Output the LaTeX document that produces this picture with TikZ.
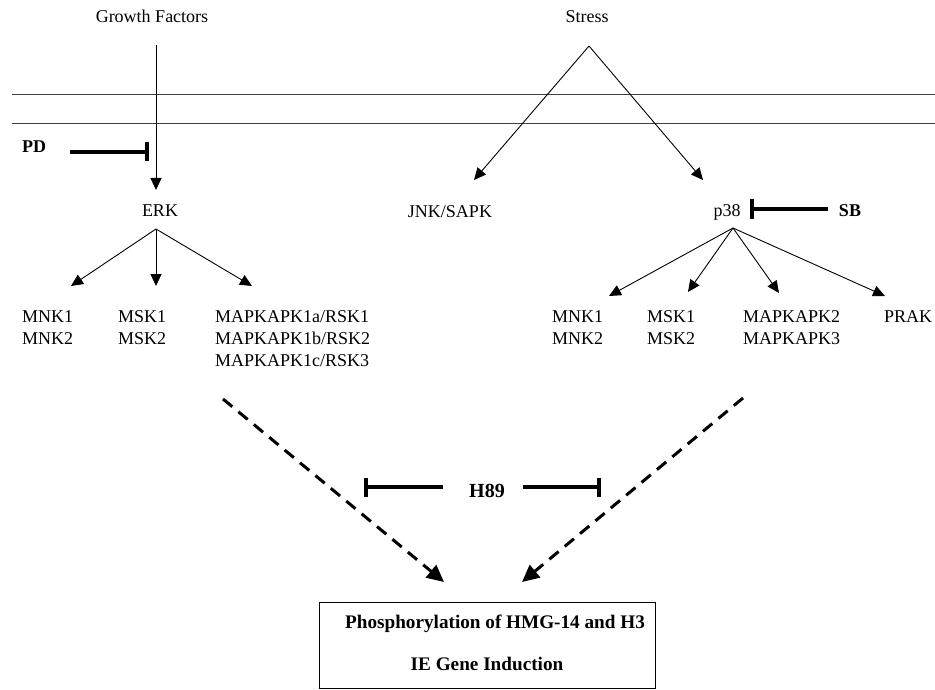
\documentclass[tikz,border=0pt]{standalone}
\usepackage{fontspec}
\setmainfont{Liberation Serif}
\usetikzlibrary{arrows.meta}
\begin{document}
\begin{tikzpicture}[x=1pt,y=-1pt,
  txt/.style={inner sep=0pt, font=\fontsize{18}{22}\selectfont},
  btxt/.style={inner sep=0pt, font=\fontsize{18}{22}\selectfont\bfseries},
  bigb/.style={inner sep=0pt, font=\fontsize{19.2}{22}\selectfont\bfseries},
  act/.style={line width=0.9pt, -{Triangle[length=12pt,width=11pt]}},
  inh/.style={line width=4pt, -{Bar[width=19pt]}},
  dsh/.style={line width=3pt, dash pattern=on 12pt off 8pt, -{Triangle[length=17pt,width=16pt]}},
  mem/.style={line width=0.9pt, black!75},
  boxst/.style={draw, line width=1pt, minimum width=336pt, minimum height=86pt, inner sep=0pt}]
\useasboundingbox (0,0) rectangle (935,690);

% membrane
\coordinate (m1a) at (12,94);  \coordinate (m1b) at (935,94);
\coordinate (m2a) at (12,123); \coordinate (m2b) at (935,123);
\draw[mem] (m1a) -- (m1b);
\draw[mem] (m2a) -- (m2b);

% top labels
\node[txt, anchor=base] (gf) at (152,23) {Growth Factors};
\node[txt, anchor=base] (stress) at (587,23) {Stress};

% second level
\node[txt, anchor=base] (erk) at (160,217) {ERK};
\node[txt, anchor=base] (jnk) at (450,218) {JNK/SAPK};
\node[txt, anchor=base] (p38) at (727,217) {p38};

% inhibitors
\node[btxt, anchor=base] (pd) at (34,153) {PD};
\node[btxt, anchor=base] (sb) at (850,217) {SB};
\node[btxt, font=\fontsize{20}{22}\selectfont\bfseries, anchor=base] (h89) at (487,497) {H89};

% ERK targets
\node[txt, anchor=base west] (lmnk1) at (22,322) {MNK1};
\node[txt, anchor=base west] (lmnk2) at (22,344) {MNK2};
\node[txt, anchor=base west] (lmsk1) at (118,322) {MSK1};
\node[txt, anchor=base west] (lmsk2) at (118,344) {MSK2};
\node[txt, anchor=base west] (rsk1) at (215,322) {MAPKAPK1a/RSK1};
\node[txt, anchor=base west] (rsk2) at (215,344) {MAPKAPK1b/RSK2};
\node[txt, anchor=base west] (rsk3) at (215,366) {MAPKAPK1c/RSK3};

% p38 targets
\node[txt, anchor=base west] (rmnk1) at (552,322) {MNK1};
\node[txt, anchor=base west] (rmnk2) at (552,344) {MNK2};
\node[txt, anchor=base west] (rmsk1) at (647,322) {MSK1};
\node[txt, anchor=base west] (rmsk2) at (647,344) {MSK2};
\node[txt, anchor=base west] (mk2) at (743,322) {MAPKAPK2};
\node[txt, anchor=base west] (mk3) at (743,344) {MAPKAPK3};
\node[txt, anchor=base west] (prak) at (884,322) {PRAK};

% result box
\node[boxst] (box) at (487,645) {};
\node[bigb, anchor=base] (phos) at (495,628) {Phosphorylation of HMG-14 and H3};
\node[bigb, anchor=base] (ie) at (487,670) {IE Gene Induction};

% connector end points
\coordinate (gfA) at (156,45);  \coordinate (gfB) at (156,190);
\coordinate (stA) at (589,46);  \coordinate (stL) at (474,180); \coordinate (stR) at (703,180);
\coordinate (erkA) at (156,229);
\coordinate (e1) at (71,286); \coordinate (e2) at (156,286); \coordinate (e3) at (252,286);
\coordinate (p38A) at (733,228);
\coordinate (q1) at (609,296); \coordinate (q2) at (688,292); \coordinate (q3) at (779,293); \coordinate (q4) at (885,296);
\coordinate (dL0) at (223,399); \coordinate (dL1) at (444,582);
\coordinate (dR0) at (743,398); \coordinate (dR1) at (522,582);
\coordinate (pdA) at (70,152);  \coordinate (pdB) at (149,152);
\coordinate (sbA) at (828,209); \coordinate (sbB) at (750,209);
\coordinate (hL0) at (443,487); \coordinate (hL1) at (364,487);
\coordinate (hR0) at (523,487); \coordinate (hR1) at (601,487);

% activation arrows
\draw[act] (gfA) -- (gfB);
\draw[act] (stA) -- (stL);
\draw[act] (stA) -- (stR);
\draw[act] (erkA) -- (e1);
\draw[act] (erkA) -- (e2);
\draw[act] (erkA) -- (e3);
\draw[act] (p38A) -- (q1);
\draw[act] (p38A) -- (q2);
\draw[act] (p38A) -- (q3);
\draw[act] (p38A) -- (q4);

% inhibition
\draw[inh] (pdA) -- (pdB);
\draw[inh] (sbA) -- (sbB);
\draw[inh] (hL0) -- (hL1);
\draw[inh] (hR0) -- (hR1);

% dashed arrows
\draw[dsh] (dL0) -- (dL1);
\draw[dsh] (dR0) -- (dR1);
\end{tikzpicture}
\end{document}
